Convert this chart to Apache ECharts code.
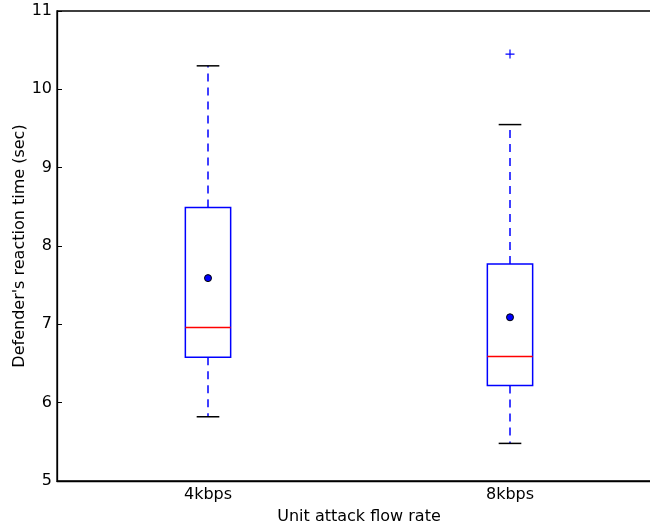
<!DOCTYPE html>
<html lang="en">
<head>
    <meta charset="UTF-8">
    <title>Defender's reaction time</title>
    <style>
      * { padding: 0; margin: 0; }
      body { background: #fff; }
    </style>
</head>
<body>
    <div id="main" style="width: 650px;height:527px;"></div>
    <script src="https://cdn.jsdelivr.net/npm/echarts@6/dist/echarts.min.js"></script>
    <script>
    // data
    var categories = ['4kbps', '8kbps'];
    var lowerWhisker = [5.82, 5.48];
    var q1 = [6.58, 6.22];
    var median = [6.96, 6.59];
    var q3 = [8.49, 7.77];
    var upperWhisker = [10.30, 9.55];
    var means = [7.59, 7.09];
    var outliers = [[1, 10.45]]; // [category index, value]

    var font = 'DejaVu Sans';
    var boxData = categories.map(function (c, i) {
        return [i, lowerWhisker[i], q1[i], median[i], q3[i], upperWhisker[i]];
    });

    function renderBox(params, api) {
        var x = api.value(0);
        var band = api.size([1, 0])[0];
        var half = band * 0.075;
        var capHalf = band * 0.0375;
        var pLow = api.coord([x, api.value(1)]);
        var pQ1 = api.coord([x, api.value(2)]);
        var pMed = api.coord([x, api.value(3)]);
        var pQ3 = api.coord([x, api.value(4)]);
        var pHigh = api.coord([x, api.value(5)]);
        var cx = pQ1[0];
        var dash = { stroke: '#0000ff', lineWidth: 1.5, lineDash: [8, 6] };
        var cap = { stroke: '#000', lineWidth: 1.5 };
        return {
            type: 'group',
            children: [
                { type: 'line', shape: { x1: cx, y1: pQ3[1], x2: cx, y2: pHigh[1] }, style: dash },
                { type: 'line', shape: { x1: cx, y1: pQ1[1], x2: cx, y2: pLow[1] }, style: dash },
                { type: 'line', shape: { x1: cx - capHalf, y1: pHigh[1], x2: cx + capHalf, y2: pHigh[1] }, style: cap },
                { type: 'line', shape: { x1: cx - capHalf, y1: pLow[1], x2: cx + capHalf, y2: pLow[1] }, style: cap },
                { type: 'rect', shape: { x: cx - half, y: pQ3[1], width: half * 2, height: pQ1[1] - pQ3[1] },
                  style: { fill: 'none', stroke: '#0000ff', lineWidth: 1.5 } },
                { type: 'line', shape: { x1: cx - half, y1: pMed[1], x2: cx + half, y2: pMed[1] },
                  style: { stroke: '#ff0000', lineWidth: 1.4 } }
            ]
        };
    }

    var option = {
        animation: false,
        backgroundColor: '#fff',
        grid: {
            left: 57, top: 11, width: 604, height: 470,
            outerBoundsMode: 'none', containLabel: false,
            show: true, borderColor: '#000', borderWidth: 1.3
        },
        xAxis: {
            type: 'category',
            data: categories,
            name: 'Unit attack flow rate',
            nameLocation: 'middle',
            nameGap: 28,
            nameMoveOverlap: false,
            nameTextStyle: { fontFamily: font, fontSize: 16, color: '#000' },
            axisLine: { lineStyle: { color: '#000', width: 1.3 } },
            axisTick: { inside: true, alignWithLabel: true, length: 5, lineStyle: { color: '#000' } },
            axisLabel: { fontFamily: font, fontSize: 16, color: '#000', margin: 6 },
            splitLine: { show: false }
        },
        yAxis: {
            type: 'value',
            min: 5,
            max: 11,
            interval: 1,
            name: "Defender's reaction time (sec)",
            nameLocation: 'middle',
            nameGap: 29,
            nameMoveOverlap: false,
            nameTextStyle: { fontFamily: font, fontSize: 16, color: '#000' },
            axisLine: { show: true, lineStyle: { color: '#000', width: 1.3 } },
            axisTick: { show: true, inside: true, length: 5, lineStyle: { color: '#000' } },
            axisLabel: { fontFamily: font, fontSize: 16, color: '#000', margin: 5 },
            splitLine: { show: false }
        },
        series: [
            {
                type: 'custom',
                renderItem: renderBox,
                data: boxData,
                encode: { x: 0, y: [1, 2, 3, 4, 5] },
                z: 2
            },
            {
                type: 'scatter',
                data: means.map(function (m, i) { return [i, m]; }),
                symbol: 'circle',
                symbolSize: 7,
                itemStyle: { color: '#0000ff', borderColor: '#000', borderWidth: 1, opacity: 1 },
                z: 3
            },
            {
                type: 'scatter',
                data: outliers,
                symbol: 'path://M0,5L10,5M5,0L5,10',
                symbolSize: 9,
                itemStyle: { color: 'none', borderColor: '#0000ff', borderWidth: 1.2, opacity: 1 },
                z: 3
            }
        ]
    };

    var myChart = echarts.init(document.getElementById('main'));
    myChart.setOption(option);
    </script>
</body>
</html>
